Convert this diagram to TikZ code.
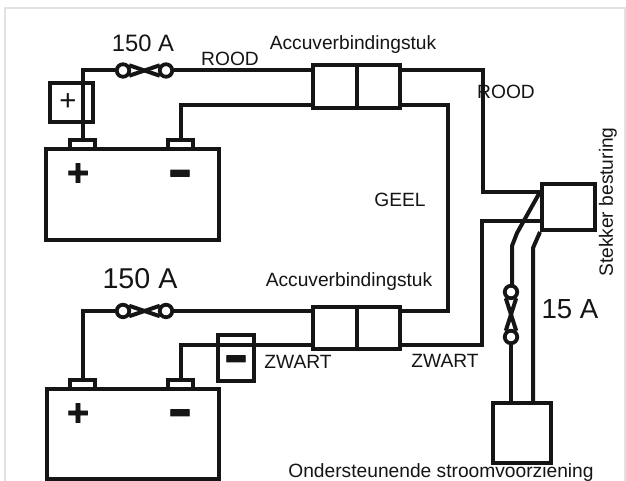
\documentclass[tikz,border=0pt]{standalone}
\usepackage{graphicx}
\usepackage{fontspec}
\setmainfont{Liberation Sans}[BoldFeatures={FakeBold=2}]
\def\px{0.75pt}
\newcommand{\fatmin}{\scalebox{1}[1.5]{−}}
\begin{document}
\begin{tikzpicture}[x=0.75pt,y=-0.75pt,
  box/.style 2 args={rectangle,draw=ink,line width=3pt,minimum width=#1*\px,minimum height=#2*\px,inner sep=0pt},
  wire/.style={draw=ink,line width=3pt,line join=miter},
  knot/.style={draw=ink,line width=3pt},
  fuse/.style={circle,draw=ink,line width=2.8pt,fill=white,minimum size=12.5*\px,inner sep=0pt},
  lab/.style={text=ink,font=\fontsize{14.4pt}{16pt}\selectfont,inner sep=0pt},
  amp/.style={text=ink,font=\fontsize{#1pt}{22pt}\selectfont,inner sep=0pt},
  pole/.style={text=ink,font=\fontsize{#1pt}{24pt}\selectfont\bfseries,inner sep=0pt}]
\definecolor{ink}{HTML}{151515}
\definecolor{edgeline}{HTML}{E2E2E2}
\useasboundingbox (0,0) rectangle (626,481);
\fill[white] (0,0) rectangle (626,481);
\draw[edgeline,line width=1.5pt] (5,481) -- (5,8) -- (625,8) -- (625,481);

\node [box={173}{91}] (batA) at (132.5,194.5) {};
\node [box={25}{9}] (tpA) at (82.5,144.5) {};
\node [box={25}{9}] (tmA) at (180.5,144.5) {};
\node [box={172}{90}] (batB) at (132.5,434) {};
\node [box={25}{9}] (tpB) at (82.5,384.5) {};
\node [box={25}{9}] (tmB) at (180.5,384.5) {};
\node [box={43}{39}] (plusbox) at (71.5,102.5) {};
\node [box={36}{46}] (minbox) at (235.5,358) {};
\node [box={87}{43}] (conA) at (356.5,86.5) {};
\node [box={87}{42}] (conB) at (356.5,328) {};
\node [box={53}{46}] (stekker) at (568.5,207) {};
\node [box={58}{60}] (hulp) at (522,433) {};

\node [fuse] (fuseAl) at (123,70.5) {};
\node [fuse] (fuseAr) at (166,70.5) {};
\node [fuse] (fuseBl) at (123,311) {};
\node [fuse] (fuseBr) at (166,311) {};
\node [fuse] (fuseCt) at (511,292) {};
\node [fuse] (fuseCb) at (511,337) {};

\coordinate (hoekNA) at (180,105);
\coordinate (hoekNB) at (180,345);
\coordinate (hoekR) at (483,192);
\coordinate (hoekG) at (448,200);
\coordinate (hoekZ) at (482,221);
\coordinate (knikA) at (517,233);
\coordinate (knikB) at (512,246);
\coordinate (knikC) at (533,248);

\draw [wire] (tpA.north) |- (fuseAl.west);
\draw [wire] (fuseAr.east) -- (conA.west |- fuseAr);
\draw [wire] (tmA.north) |- (conA.west |- hoekNA);
\draw [wire] (conA.north) -- (conA.south);
\draw [wire] (conA.east |- fuseAr) -| (hoekR) -- (stekker.west |- hoekR);
\draw [wire] (conA.east |- hoekNA) -| (hoekG) |- (conB.east |- fuseBr);
\draw [wire] (tpB.north) |- (fuseBl.west);
\draw [wire] (fuseBr.east) -- (conB.west |- fuseBr);
\draw [wire] (tmB.north) |- (conB.west |- hoekNB);
\draw [wire] (conB.north) -- (conB.south);
\draw [wire] (conB.east |- hoekNB) -| (hoekZ) -- (stekker.west |- hoekZ);
\draw [wire] (stekker.west |- hoekR) -- (knikA) -- (knikB) -- (fuseCt.north -| knikB) -- (fuseCt.north);
\draw [wire] (fuseCb.south) -- (hulp.north -| fuseCb);
\draw [wire] (stekker.south west) -- (knikC) -- (hulp.north -| knikC);
\draw [wire] (plusbox.north -| tpA) -- (plusbox.south -| tpA);

\draw [knot] (fuseAl.40) -- (fuseAr.220);
\draw [knot] (fuseAl.-40) -- (fuseAr.140);
\draw [knot] (fuseBl.40) -- (fuseBr.220);
\draw [knot] (fuseBl.-40) -- (fuseBr.140);
\draw [knot] (fuseCt.-50) -- (fuseCb.130);
\draw [knot] (fuseCt.-130) -- (fuseCb.50);

\node [pole=28] (pA) at (78,174.5) {+};
\node [pole=28] (mA) at (180,181) {\fatmin};
\node [pole=28] (pB) at (78,414.5) {+};
\node [pole=28] (mB) at (180,420.5) {\fatmin};
\node [text=ink,font=\fontsize{22pt}{24pt}\selectfont,inner sep=0pt] (pS) at (68,102.5) {+};
\node [pole=28] (mS) at (236,366.5) {\fatmin};

\node [amp=17.8] (amA) at (143,43) {150 A};
\node [amp=21.5] (amB) at (140,279) {150 A};
\node [amp=20.7] (amC) at (570,309) {15 A};
\node [lab] (roodA) at (230,59) {ROOD};
\node [lab] (roodB) at (506,92) {ROOD};
\node [lab] (accuA) at (353,45) {Accuverbindingstuk};
\node [lab] (accuB) at (349,282) {Accuverbindingstuk};
\node [lab] (geel) at (400,200) {GEEL};
\node [lab] (zwartA) at (298,362) {ZWART};
\node [lab] (zwartB) at (445,361) {ZWART};
\node [lab,rotate=90] (stek) at (608,202) {Stekker besturing};
\node [lab,anchor=base] (onder) at (441,477.5) {Ondersteunende stroomvoorziening};
\end{tikzpicture}
\end{document}
